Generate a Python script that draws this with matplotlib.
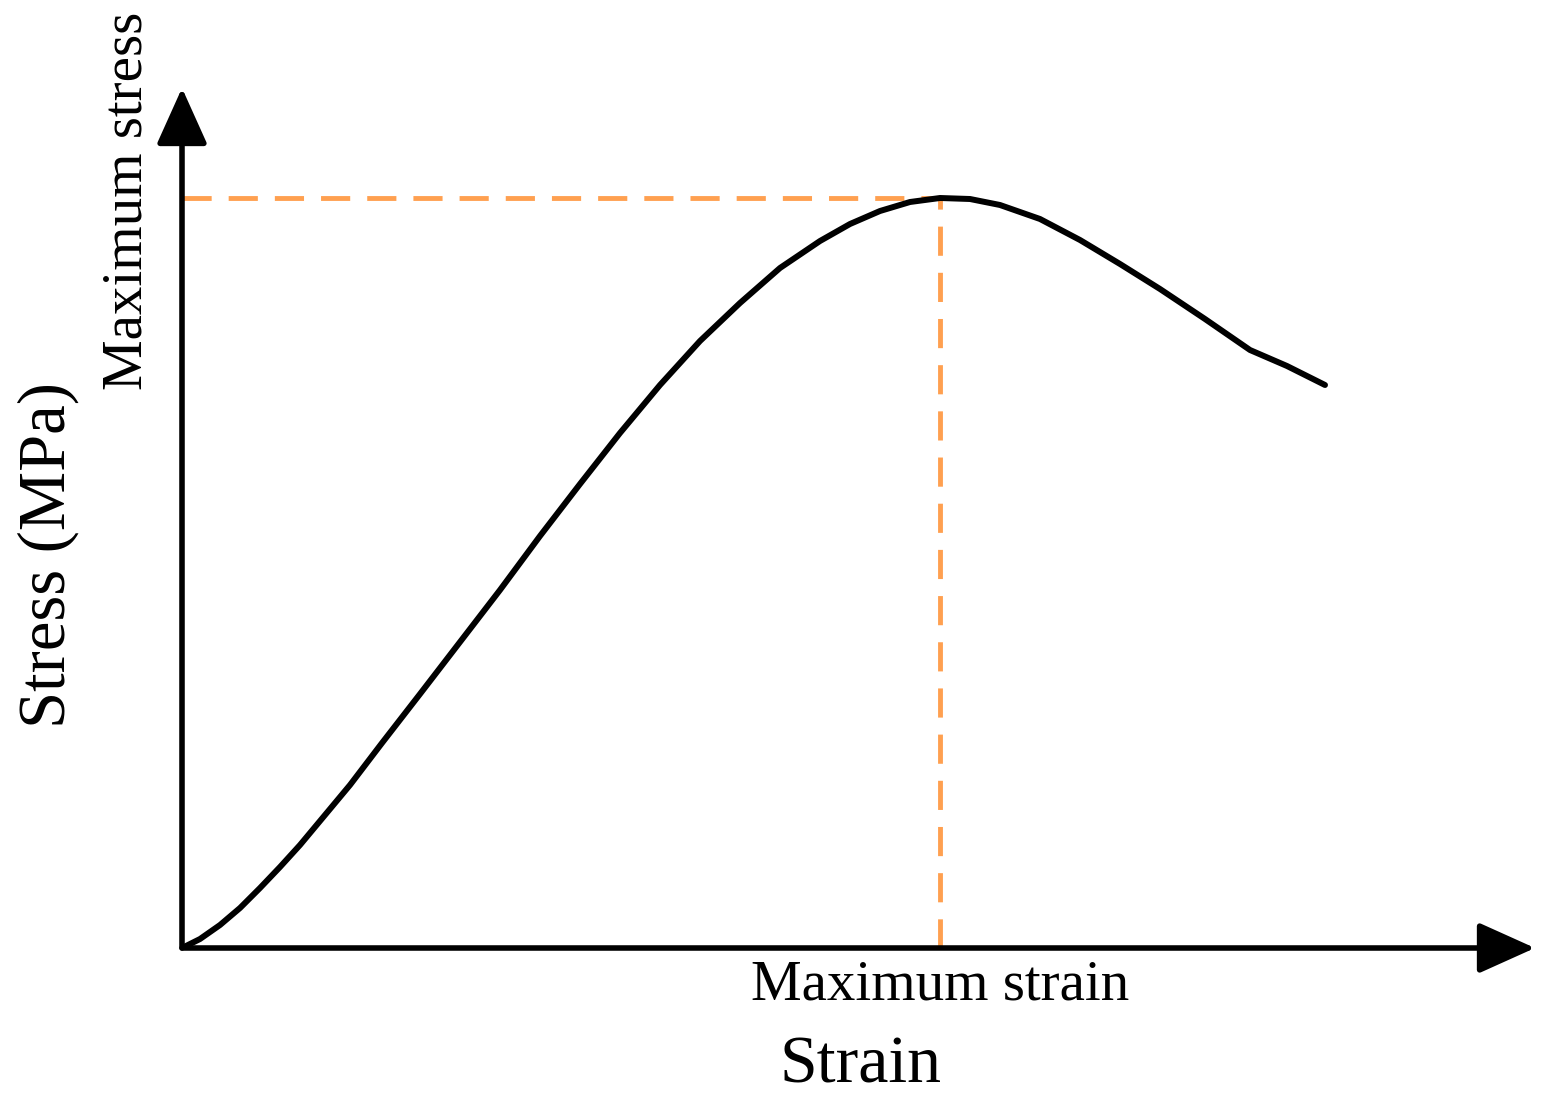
import matplotlib.pyplot as plt

# schematic stress-strain curve (arbitrary units)
strain = [0, 18, 38, 58, 78, 98, 118, 143, 168, 200, 238, 278, 318, 358, 398, 438,
          478, 518, 558, 598, 638, 668, 698, 728, 758, 788, 818, 858, 898, 938,
          978, 1023, 1068, 1105, 1143]
stress = [0, 9, 23, 40, 60, 81, 103, 133, 163, 205, 254, 306, 358, 412, 464, 515,
          563, 607, 645, 680, 707, 724, 737, 746, 750, 749, 743, 729, 708, 684,
          659, 629, 598, 582, 563]
peak_strain = 758
peak_stress = 750
x_max = 1353
y_max = 860

plt.rcParams['font.family'] = ['Liberation Serif', 'DejaVu Serif']

fig = plt.figure(figsize=(15.55, 11.06), dpi=100)
ax = fig.add_axes([182/1555, 158/1106, (1535-182)/1555, (948-88)/1106])
ax.set_xlim(0, x_max)
ax.set_ylim(0, y_max)
ax.axis('off')

ax.plot(strain, stress, color='black', lw=4.3, solid_capstyle='round',
        solid_joinstyle='round', zorder=3)
ax.plot([0, peak_strain], [peak_stress, peak_stress], color='#FFA050', lw=3.5,
        dashes=(6, 3.5), zorder=2)
ax.plot([peak_strain, peak_strain], [0, peak_stress], color='#FFA050', lw=3.5,
        dashes=(6, 3.5), zorder=2)

# axes as arrows
arrow = dict(arrowstyle='-|>,head_length=1.0,head_width=0.45', color='black',
             lw=4, mutation_scale=35, shrinkA=0, shrinkB=0)
ax.annotate('', xy=(x_max, 0), xytext=(0, 0), arrowprops=arrow, annotation_clip=False)
ax.annotate('', xy=(0, y_max), xytext=(0, 0), arrowprops=arrow, annotation_clip=False)

ax.text(peak_strain, -12, 'Maximum strain', ha='center', va='top', fontsize=41)
fig.text(128/1555, 1 - 390/1106, 'Maximum stress', ha='center', va='bottom',
         rotation=90, fontsize=41)
fig.text(860/1555, 1 - 1066/1106, 'Strain', ha='center', va='center', fontsize=49)
fig.text(48/1555, 1 - 555/1106, 'Stress (MPa)', ha='center', va='center',
         rotation=90, fontsize=48)

fig.savefig('out.png', dpi=100)
